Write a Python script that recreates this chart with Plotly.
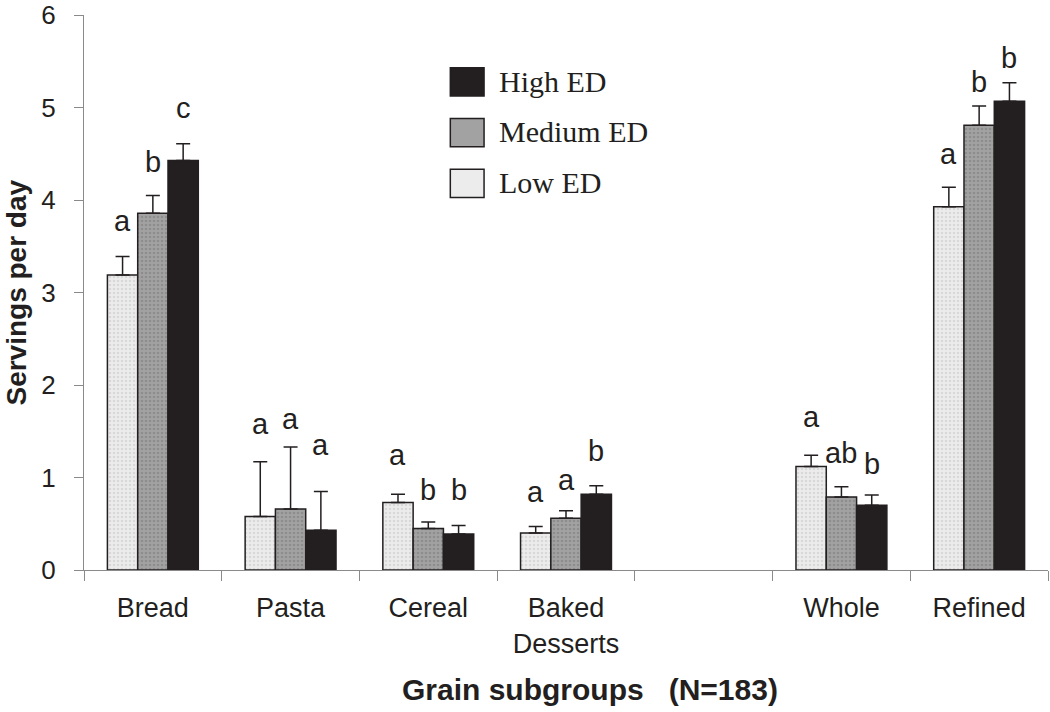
import plotly.graph_objects as go

# ── Data ──────────────────────────────────────────────────────────────────────
categories = ["Bread", "Pasta", "Cereal", "Baked<br>Desserts", " ", "Whole", "Refined"]

low_ed = [3.19, 0.58, 0.73, 0.40, None, 1.12, 3.93]
low_err = [0.20, 0.59, 0.09, 0.07, None, 0.12, 0.21]
low_letters = ["a", "a", "a", "a", "", "a", "a"]
low_letter_y = [3.78, 1.58, 1.24, 0.84, None, 1.65, 4.50]

medium_ed = [3.86, 0.66, 0.45, 0.56, None, 0.79, 4.81]
medium_err = [0.19, 0.67, 0.07, 0.08, None, 0.11, 0.21]
medium_letters = ["b", "a", "b", "a", "", "ab", "b"]
medium_letter_y = [4.41, 1.63, 0.86, 0.97, None, 1.27, 5.28]

high_ed = [4.43, 0.43, 0.39, 0.82, None, 0.70, 5.07]
high_err = [0.18, 0.42, 0.09, 0.09, None, 0.11, 0.20]
high_letters = ["c", "a", "b", "b", "", "b", "b"]
high_letter_y = [5.00, 1.35, 0.86, 1.29, None, 1.15, 5.54]

y_ticks = [0, 1, 2, 3, 4, 5, 6]
legend_names = ["High ED", "Medium ED", "Low ED"]

# ── Style ─────────────────────────────────────────────────────────────────────
INK = "#231f20"
AXIS = "#8a8a8a"
LOW_BG, LOW_FG = "#ececec", "#c4c4c4"
MED_BG, MED_FG = "#a2a2a2", "#777777"
SANS = "Liberation Sans, Arial, sans-serif"
SERIF = "Liberation Serif, Times New Roman, serif"

W, H = 1050, 712
MARGIN = dict(l=84, r=2, t=15, b=142)
BARGAP = 0.34

series = [
    ("Low ED", low_ed, low_err, low_letters, low_letter_y, LOW_BG, LOW_FG),
    ("Medium ED", medium_ed, medium_err, medium_letters, medium_letter_y, MED_BG, MED_FG),
    ("High ED", high_ed, high_err, high_letters, high_letter_y, INK, INK),
]

fig = go.Figure()
for name, vals, errs, _, _, bg, fg in series:
    fig.add_trace(
        go.Bar(
            x=categories,
            y=vals,
            name=name,
            marker=dict(
                color=bg,
                line=dict(color=INK, width=1.5),
                pattern=dict(shape="." if bg != INK else "", fgcolor=fg,
                             bgcolor=bg, size=4, solidity=0.35),
            ),
            error_y=dict(type="data", array=errs, arrayminus=[0] * len(errs),
                         symmetric=False, color=INK, thickness=1.5, width=7),
            showlegend=False,
        )
    )

# significance letters above each bar
plot_w = W - MARGIN["l"] - MARGIN["r"]
bar_w = plot_w / len(categories) * (1 - BARGAP) / 3
for i, (_, _, _, letters, letter_y, _, _) in enumerate(series):
    for cat, txt, ly in zip(categories, letters, letter_y):
        if not txt:
            continue
        fig.add_annotation(
            x=cat, y=ly, text=txt, showarrow=False,
            xshift=(i - 1) * bar_w, yanchor="middle",
            font=dict(family=SANS, size=29, color=INK),
        )

# hand-drawn legend (boxed swatches, serif labels)
legend_fill = {"High ED": INK, "Medium ED": MED_BG, "Low ED": LOW_BG}
for k, name in enumerate(legend_names):
    y1 = 0.905 - k * 0.0915
    fig.add_shape(type="rect", xref="paper", yref="paper",
                  x0=0.380, x1=0.415, y0=y1 - 0.051, y1=y1,
                  fillcolor=legend_fill[name], line=dict(color=INK, width=1.5))
    fig.add_annotation(xref="paper", yref="paper", x=0.428, y=y1 - 0.024,
                       text=name, showarrow=False, xanchor="left", yanchor="middle",
                       font=dict(family=SERIF, size=30, color=INK))

# axis titles as free text so they sit where the original puts them
fig.add_annotation(xref="paper", yref="paper", x=0.525, y=-0.215,
                   text="<b>Grain subgroups   (N=183)</b>", showarrow=False,
                   xanchor="center", yanchor="middle",
                   font=dict(family=SANS, size=30, color=INK))
fig.add_annotation(xref="paper", yref="paper", x=-0.0705, y=0.5,
                   text="<b>Servings per day</b>", showarrow=False, textangle=-90,
                   xanchor="center", yanchor="middle",
                   font=dict(family=SANS, size=28, color=INK))

fig.update_layout(
    width=W,
    height=H,
    margin=MARGIN,
    barmode="group",
    bargap=BARGAP,
    bargroupgap=0,
    paper_bgcolor="white",
    plot_bgcolor="white",
    font=dict(family=SANS, color=INK),
    xaxis=dict(
        automargin=False,
        showline=True, linecolor=AXIS, linewidth=1,
        ticks="outside", tickson="boundaries", ticklen=10, tickcolor=AXIS,
        tickfont=dict(family=SANS, size=27, color=INK),
        ticklabelstandoff=14,
        showgrid=False, zeroline=False,
    ),
    yaxis=dict(
        automargin=False,
        range=[0, 6.003], tickmode="array", tickvals=y_ticks,
        showline=True, linecolor=AXIS, linewidth=1,
        ticks="outside", ticklen=9, tickcolor=AXIS,
        tickfont=dict(family=SANS, size=26, color=INK),
        ticklabelstandoff=13, ticklabeloverflow="allow",
        showgrid=False, zeroline=False,
    ),
)

# drop the browser's default 8px page margin so the figure fills the window
fig.write_html(
    "out.html",
    config={"displayModeBar": False},
    post_script="document.body.style.margin = '0';",
)
